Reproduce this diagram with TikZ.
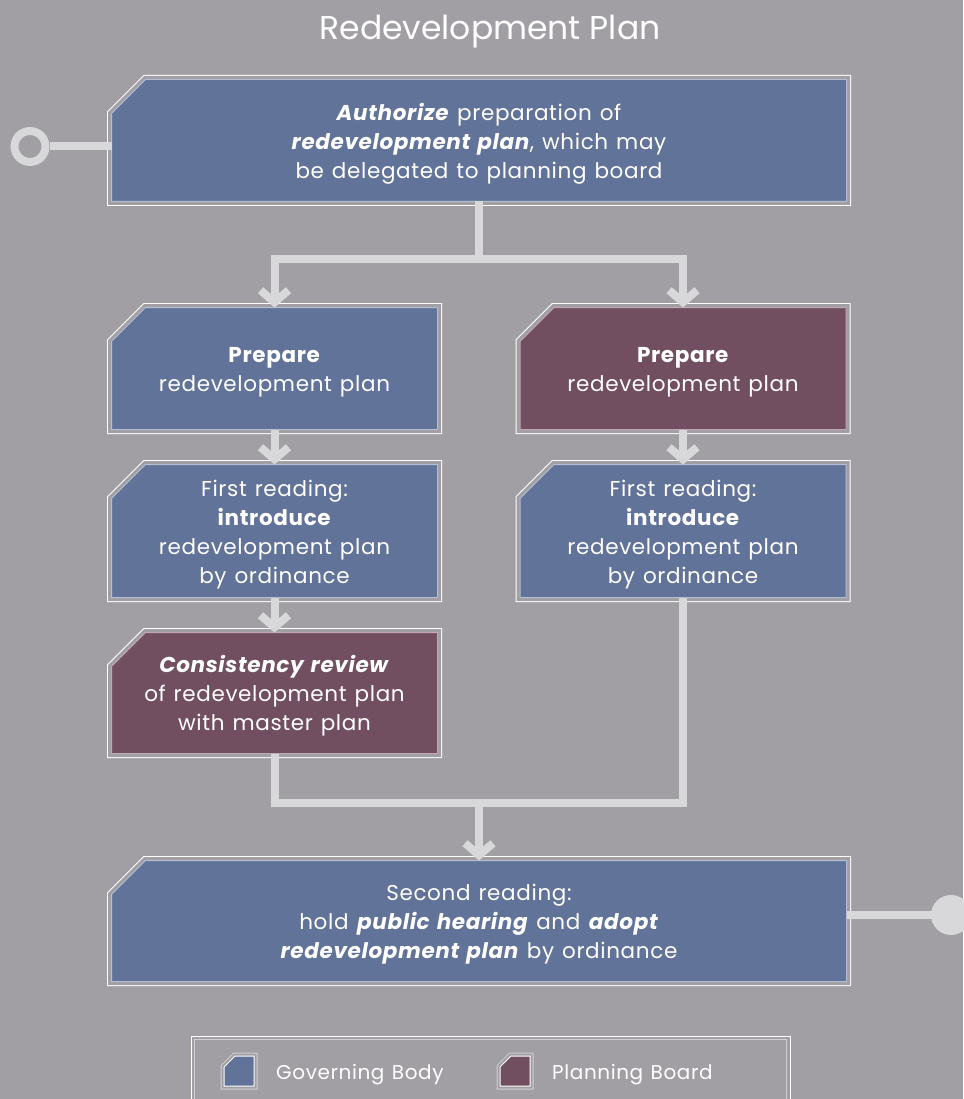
\documentclass[tikz,border=0pt]{standalone}
\usepackage{fontspec}
\setmainfont{Poppins}
\newfontfamily\bodyfont{Poppins}[LetterSpace=3, WordSpace=1.25]
\usetikzlibrary{calc,positioning,arrows.meta,backgrounds}

\definecolor{bgray}{HTML}{A19FA3}
\definecolor{govfill}{HTML}{617398}
\definecolor{govline}{HTML}{B3BDD4}
\definecolor{planfill}{HTML}{724F60}
\definecolor{planline}{HTML}{C2A7B4}
\definecolor{linkgray}{HTML}{D8D7DA}
\definecolor{keyline}{HTML}{CFCED2}

% chamfered outline round a named node: #1 node, #2 size of the cut
\newcommand{\chamfer}[2]{($(#1.north west)+(0,#2)$) -- ($(#1.north west)+(#2,0)$) -- (#1.north east) -- (#1.south east) -- (#1.south west) -- cycle}
% first line strut, keeps the text low in its box as in the plan
\newcommand{\firstline}{\rule{0pt}{23pt}}

\tikzset{
  stepbox/.style={inner sep=0pt, outer sep=0pt, align=center, text=white, font=\bodyfont\fontsize{21.5}{29}\selectfont},
  keybox/.style={inner sep=0pt, outer sep=0pt, minimum width=30pt, minimum height=30pt},
  keytext/.style={inner sep=0pt, text=white, anchor=base west, font=\bodyfont\fontsize{20}{24}\selectfont},
  link/.style={draw=linkgray, line width=8pt},
  tip/.style={-{Straight Barb[length=12pt, width=28pt]}}
}

\begin{document}
\begin{tikzpicture}[x=1pt, y=-1pt]
    \useasboundingbox (0,0) rectangle (963,1099);

    \node (title) [inner sep=0pt, text=white, anchor=base, font=\fontsize{33}{36}\selectfont] at (490,40) {Redevelopment Plan};

    \node (auth) [stepbox, minimum width=735pt, minimum height=122pt] at (479,140.5) {\firstline\textbf{\textit{Authorize}} preparation of\\ \textbf{\textit{redevelopment plan}}, which may\\ be delegated to planning board};
    \node (prepA) [stepbox, minimum width=326pt, minimum height=122pt] at (274.5,368.5) {\firstline\textbf{Prepare}\\ redevelopment plan};
    \node (prepB) [stepbox, minimum width=326pt, minimum height=122pt] at (683,368.5) {\firstline\textbf{Prepare}\\ redevelopment plan};
    \node (readA) [stepbox, minimum width=326pt, minimum height=133pt] at (274.5,531) {\firstline First reading:\\ \textbf{introduce}\\ redevelopment plan\\ by ordinance};
    \node (readB) [stepbox, minimum width=326pt, minimum height=133pt] at (683,531) {\firstline First reading:\\ \textbf{introduce}\\ redevelopment plan\\ by ordinance};
    \node (review) [stepbox, minimum width=326pt, minimum height=121pt] at (274.5,693) {\firstline\textbf{\textit{Consistency review}}\\ of redevelopment plan\\ with master plan};
    \node (final) [stepbox, minimum width=735pt, minimum height=121pt] at (479,921) {\firstline Second reading:\\ hold \textbf{\textit{public hearing}} and \textbf{\textit{adopt}}\\ \textbf{\textit{redevelopment plan}} by ordinance};

    % connectors
    \coordinate (split) at (479,258.5);
    \coordinate (merge) at (479,803);
    \draw[link] (auth.south) -- (split);
    \draw[link, tip] (split) -| (prepA.north);
    \draw[link, tip] (split) -| (prepB.north);
    \draw[link, tip] (prepA.south) -- (readA.north);
    \draw[link, tip] (prepB.south) -- (readB.north);
    \draw[link, tip] (readA.south) -- (review.north);
    \draw[link] (review.south) |- (merge);
    \draw[link] (readB.south) |- (merge);
    \draw[link, tip] (merge) -- (final.north);

    \coordinate (startpin) at (30,146.5);
    \draw[link] (startpin) circle (15.5);
    \draw[link] ($(startpin)+(19.5,0)$) -- (auth.west |- startpin);
    \coordinate (endpin) at (951,915);
    \draw[link] (final.east |- endpin) -- (endpin);
    \fill[linkgray] (endpin) circle (20);

    % legend
    \node (legend) [draw=white, line width=1pt, minimum width=599pt, minimum height=100pt] at (490.5,1086) {};
    \draw[keyline, line width=1pt] ($(legend.north west)+(4,4)$) rectangle ($(legend.south east)+(-4,-4)$);
    \node (govkey) [keybox] at (239,1071) {};
    \node (govlabel) [keytext] at (276,1079) {Governing Body};
    \node (plankey) [keybox] at (515,1071) {};
    \node (planlabel) [keytext] at (552,1079) {Planning Board};

    \begin{scope}[on background layer]
        \fill[bgray] (0,0) rectangle (963,1099);
        \foreach \n/\f/\l in {auth/govfill/govline, prepA/govfill/govline, prepB/planfill/planline, readA/govfill/govline, readB/govfill/govline, review/planfill/planline, final/govfill/govline} {
            \draw[white, line width=9pt] \chamfer{\n}{34};
            \draw[bgray, line width=7pt] \chamfer{\n}{34};
            \draw[fill=\f, draw=\l, line width=1pt] \chamfer{\n}{34};
        }
        \foreach \n/\f in {govkey/govfill, plankey/planfill} {
            \draw[keyline, line width=7pt] \chamfer{\n}{11};
            \draw[bgray, line width=5pt] \chamfer{\n}{11};
            \draw[fill=\f, draw=white, line width=1pt] \chamfer{\n}{11};
        }
    \end{scope}
\end{tikzpicture}
\end{document}
